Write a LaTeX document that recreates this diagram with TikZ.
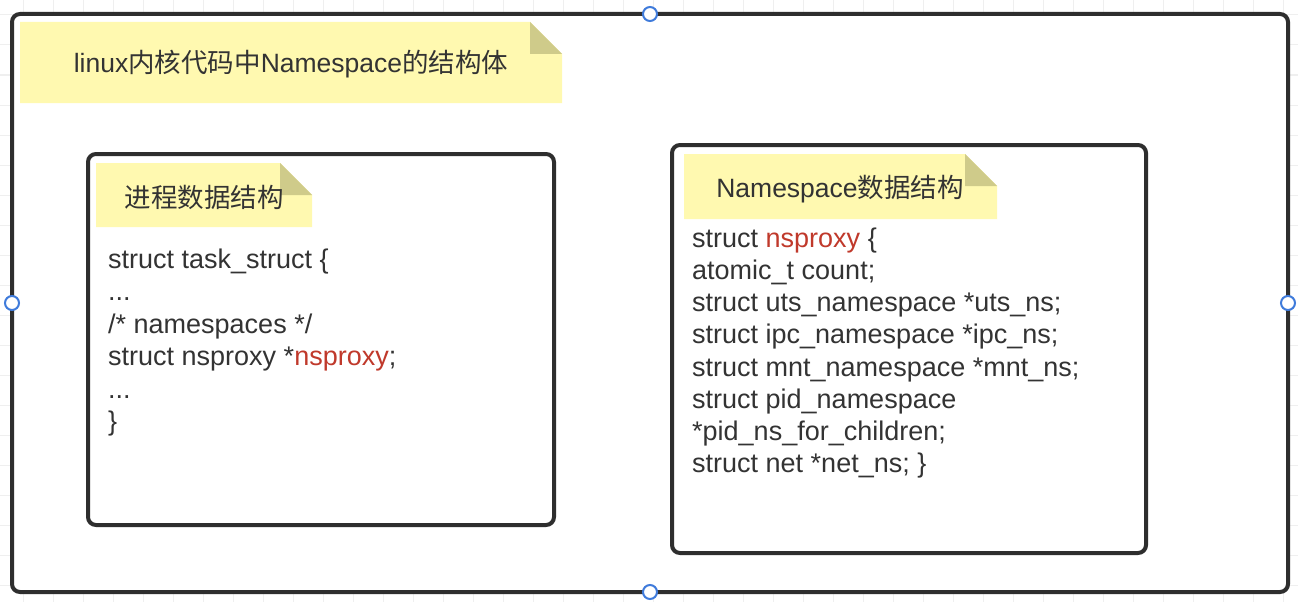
\documentclass[tikz,border=0pt]{standalone}
\usepackage{fontspec}
\setmainfont{Liberation Sans}
\newfontfamily\cjk{Noto Sans CJK SC}
\definecolor{ink}{HTML}{333333}
\definecolor{boxline}{HTML}{2E2E2E}
\definecolor{noteyellow}{HTML}{FFF9B0}
\definecolor{notefold}{HTML}{CFCB8A}
\definecolor{codered}{HTML}{C0392B}
\definecolor{handleblue}{HTML}{3F7BDB}
\definecolor{gridgray}{HTML}{EFEFEF}
\tikzset{
  frame/.style={draw=boxline, line width=4pt, rounded corners=8pt, fill=white},
  gridline/.style={draw=gridgray, line width=1pt},
  handle/.style={circle, draw=handleblue, fill=white, line width=2pt, minimum size=14pt, inner sep=0pt},
  code/.style={anchor=base west, inner sep=0pt, text=ink, font=\fontsize{27}{32}\selectfont},
  notetext/.style={anchor=base, inner sep=0pt, text=ink, font=\fontsize{26.5}{32}\selectfont},
}
\newcommand{\red}[1]{\textcolor{codered}{#1}}
\begin{document}
\begin{tikzpicture}[x=1pt,y=-1pt]
\useasboundingbox (0,0) rectangle (1298,602);
\fill[white] (0,0) rectangle (1298,602);
% background grid
\foreach \gx in {23,53,...,1297} \draw[gridline] (\gx,0) -- (\gx,602);
\foreach \gy in {15,45,...,601} \draw[gridline] (0,\gy) -- (1298,\gy);
% outer frame
\draw[frame] (12,14) rectangle (1288,592);
% title note
\fill[noteyellow] (20,22) -- (530,22) -- (562,54) -- (562,103) -- (20,103) -- cycle;
\fill[notefold] (530,22) -- (530,54) -- (562,54) -- cycle;
\node[notetext] (title) at (291,73) {linux{\cjk 内核代码中}Namespace{\cjk 的结构体}};
% left box
\draw[frame] (88,154) rectangle (554,525);
\fill[noteyellow] (96,163) -- (280,163) -- (312,195) -- (312,227) -- (96,227) -- cycle;
\fill[notefold] (280,163) -- (280,195) -- (312,195) -- cycle;
\node[notetext] (lefttitle) at (204,207) {\cjk 进程数据结构};
\node[code] (l1) at (108,268) {struct task\_struct \{};
\node[code] (l2) at (108,300.5) {...};
\node[code] (l3) at (108,333) {/* namespaces */};
\node[code] (l4) at (108,365.5) {struct nsproxy *\red{nsproxy};};
\node[code] (l5) at (108,398) {...};
\node[code] (l6) at (108,430.5) {\}};
% right box
\draw[frame] (672,145) rectangle (1146,553);
\fill[noteyellow] (684,154) -- (965,154) -- (997,186) -- (997,219) -- (684,219) -- cycle;
\fill[notefold] (965,154) -- (965,186) -- (997,186) -- cycle;
\node[notetext] (righttitle) at (840,197) {Namespace{\cjk 数据结构}};
\node[code] (r1) at (692,247) {struct \red{nsproxy} \{};
\node[code] (r2) at (692,279) {atomic\_t count;};
\node[code] (r3) at (692,311) {struct uts\_namespace *uts\_ns;};
\node[code] (r4) at (692,343) {struct ipc\_namespace *ipc\_ns;};
\node[code] (r5) at (692,376) {struct mnt\_namespace *mnt\_ns;};
\node[code] (r6) at (692,408) {struct pid\_namespace};
\node[code] (r7) at (692,440) {*pid\_ns\_for\_children;};
\node[code] (r8) at (692,472) {struct net *net\_ns; \}};
% selection handles
\node[handle] (htop) at (650,14) {};
\node[handle] (hleft) at (12,303) {};
\node[handle] (hright) at (1288,303) {};
\node[handle] (hbottom) at (650,592) {};
\end{tikzpicture}
\end{document}
